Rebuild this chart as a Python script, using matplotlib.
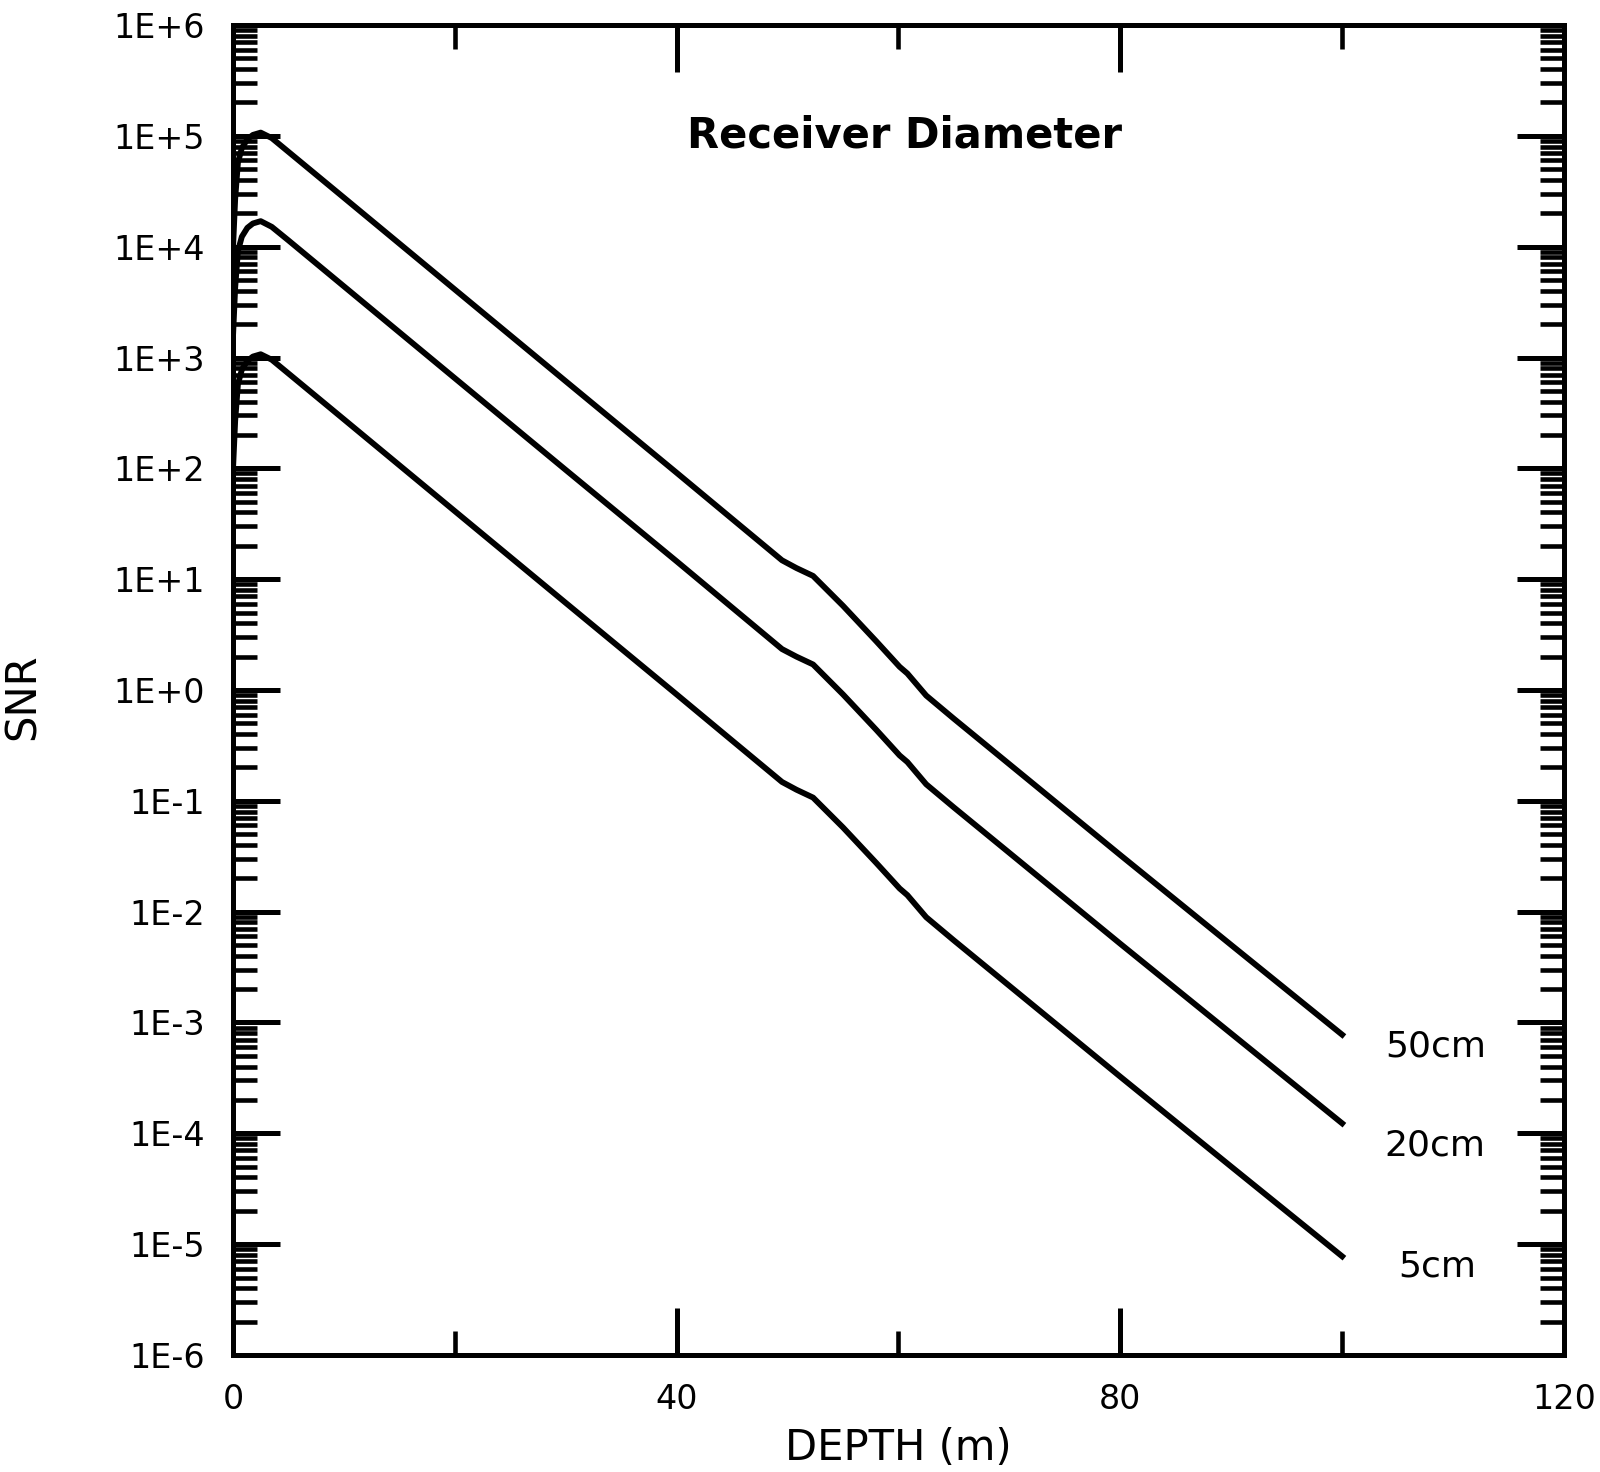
import numpy as np
import matplotlib
matplotlib.use("Agg")
import matplotlib.pyplot as plt
from matplotlib.ticker import MultipleLocator, LogLocator, FixedLocator, FuncFormatter, NullFormatter

# =============================================================================
# DATOS
# =============================================================================

depth = [0, 0.2, 0.45, 0.8, 1.3, 1.8, 2.5, 3.5, 5, 10, 20, 30, 40, 45, 49.5,
         50.8, 52.3, 55, 58, 60.1, 60.8, 62.5, 65, 70, 80, 90, 100]

snr_50cm = [9.5e3, 2.7e4, 5.75e4, 7.76e4, 9.33e4, 1.02e5, 1.07e5, 9.55e4, 7.18e4,
            2.77e4, 4.11e3, 611, 91.2, 35.0, 14.8, 12.6, 10.7, 5.75, 2.75, 1.62,
            1.41, 0.891, 0.55, 0.214, 0.0324, 5.0e-3, 7.76e-4]

snr_20cm = [1.51e3, 4.27e3, 9.12e3, 1.23e4, 1.48e4, 1.62e4, 1.70e4, 1.51e4, 1.14e4,
            4.39e3, 651, 96.8, 14.5, 5.55, 2.34, 2.0, 1.70, 0.912, 0.437, 0.257,
            0.224, 0.141, 0.0871, 0.0339, 5.13e-3, 7.94e-4, 1.23e-4]

snr_5cm = [95.5, 269, 575, 776, 933, 1.02e3, 1.07e3, 955, 718,
           277, 41.1, 6.11, 0.912, 0.350, 0.148, 0.126, 0.107, 0.0575, 0.0275, 0.0162,
           0.0141, 8.91e-3, 5.5e-3, 2.14e-3, 3.24e-4, 5.0e-5, 7.76e-6]

etiquetas = ["50cm", "20cm", "5cm"]
pos_etiquetas = [(108.4, 6.1e-4), (108.4, 7.8e-5), (108.6, 6.3e-6)]

decadas = [1e-6, 1e-5, 1e-4, 1e-3, 1e-2, 1e-1, 1e0, 1e1, 1e2, 1e3, 1e4, 1e5, 1e6]
etiquetas_y = ["1E-6", "1E-5", "1E-4", "1E-3", "1E-2", "1E-1", "1E+0",
               "1E+1", "1E+2", "1E+3", "1E+4", "1E+5", "1E+6"]
ticks_x = [0, 40, 80, 120]

# =============================================================================
# FIGURA
# =============================================================================

plt.rcParams['font.family'] = ['DejaVu Sans']

fig = plt.figure(figsize=(16, 14.72), dpi=100)
ax = fig.add_axes([0.1456, 0.0795, 0.8319, 0.9035])

for serie in (snr_50cm, snr_20cm, snr_5cm):
    ax.plot(depth, serie, color='black', lw=4.2, solid_joinstyle='round')

ax.set_yscale('log')
ax.set_xlim(0, 120)
ax.set_ylim(1e-6, 1e6)

# ticks
ax.set_xticks(ticks_x)
ax.set_xticklabels([str(t) for t in ticks_x])
ax.xaxis.set_minor_locator(FixedLocator([20, 60, 100]))
ax.set_yticks(decadas)
ax.set_yticklabels(etiquetas_y)
menores = [d * k for d in decadas[:-1] for k in range(2, 10)]
ax.yaxis.set_minor_locator(FixedLocator(menores))
ax.yaxis.set_minor_formatter(NullFormatter())
ax.xaxis.set_minor_formatter(NullFormatter())
ax.xaxis.offsetText.set_visible(False)
ax.yaxis.offsetText.set_visible(False)

ax.tick_params(which='both', direction='in', top=True, right=True, colors='black')
ax.tick_params(which='major', length=34, width=3.6, labelsize=24, pad=20)
ax.tick_params(which='minor', length=17, width=3.3)

for s in ax.spines.values():
    s.set_linewidth(3.6)

ax.set_xlabel("DEPTH (m)", fontsize=30, labelpad=8)
ax.set_ylabel("SNR", fontsize=30)
ax.yaxis.set_label_coords(-0.142, 0.495)

ax.text(60.5, 1e5, "Receiver Diameter", fontsize=30, fontweight='bold',
        ha='center', va='center')

for txt, (xt, yt) in zip(etiquetas, pos_etiquetas):
    ax.text(xt, yt, txt, fontsize=26, ha='center', va='center')

fig.savefig("out.png", dpi=100)
